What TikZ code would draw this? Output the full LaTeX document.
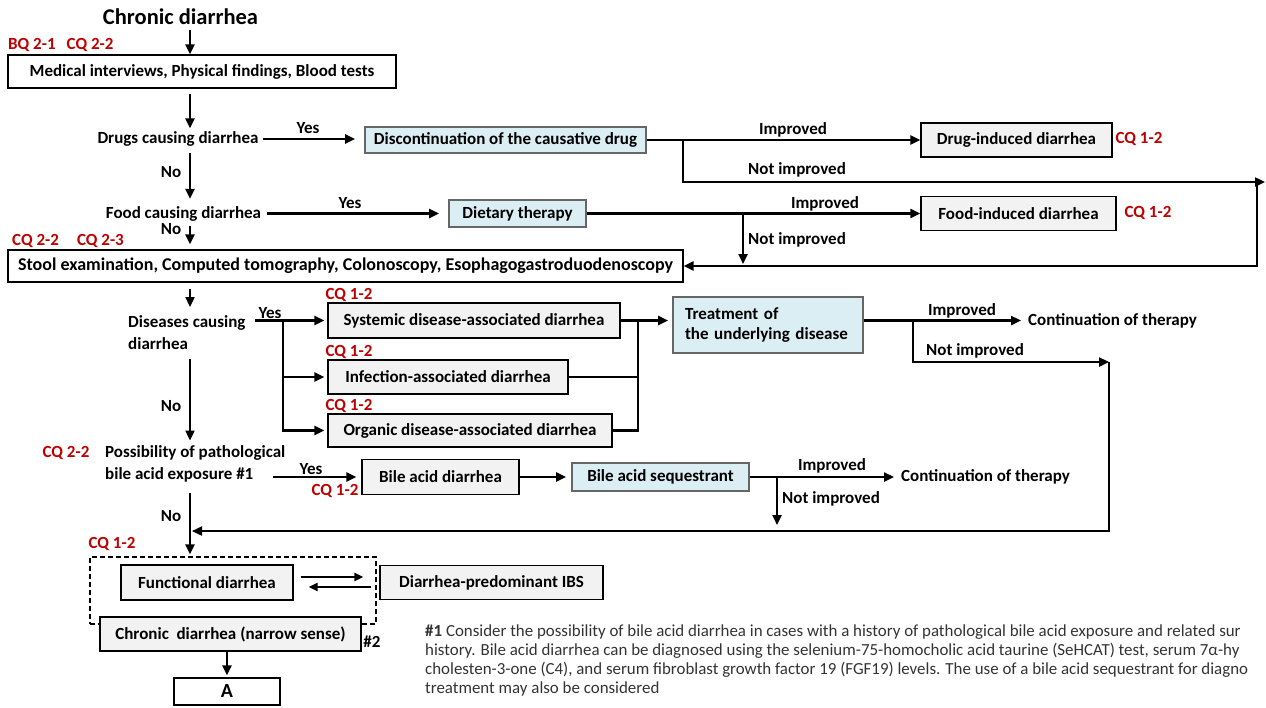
\documentclass[tikz,border=0pt]{standalone}
\usepackage{fontspec}
\setmainfont{Carlito}
\usetikzlibrary{arrows.meta}
\definecolor{cqred}{HTML}{C00000}
\definecolor{lblue}{HTML}{DBEEF4}
\definecolor{lgray}{HTML}{F2F2F2}
\definecolor{fnote}{HTML}{333333}
\begin{document}
\begin{tikzpicture}[x=1pt,y=-1pt,
  lab/.style={font=\fontsize{17}{22}\selectfont\bfseries, inner sep=0pt},
  cq/.style={lab, text=cqred},
  box/.style={draw, line width=1.4pt, inner sep=0pt, font=\fontsize{17}{20}\selectfont\bfseries, align=center},
  wbox/.style={box, fill=white},
  bbox/.style={box, fill=lblue, draw=black!60, line width=1.7pt},
  gbox/.style={box, fill=lgray},
  arr/.style={line width=2.3pt, -{Triangle[length=10pt,width=9pt]}},
  sarr/.style={line width=2.3pt, -{Triangle[length=9pt,width=8pt]}},
  ln/.style={line width=2.3pt},
  fn/.style={font=\fontsize{16.9}{19}\selectfont, text=fnote, inner sep=0pt, anchor=base west},
]
\useasboundingbox (0,0) rectangle (1266,707);
\fill[white] (0,0) rectangle (1266,707);
\coordinate (col) at (190,0);

% ---- top
\node[lab, font=\fontsize{22.5}{26}\selectfont\bfseries] (title) at (180.5,17) {Chronic diarrhea};
\node[cq, anchor=west] (bq) at (8,45) {BQ 2-1\hspace{11pt}CQ 2-2};
\node[wbox, minimum width=388pt, minimum height=33pt] (med) at (202,71.5) {Medical interviews, Physical findings, Blood tests};
\draw[arr] ([yshift=-30pt]col) -- (col |- med.north);

\node[lab] (drugs) at (178,139) {Drugs causing diarrhea};
\draw[arr] ([yshift=-5pt]med.south -| col) -- ([yshift=3pt]drugs.north -| col);
\node[bbox, minimum width=281pt, minimum height=26pt] (disc) at (505.5,140) {Discontinuation of the causative drug};
\draw[arr] ([xshift=4pt]drugs.east) -- ([xshift=-9pt]drugs.east -| disc.west);
\node[lab] (y1) at (308,128) {Yes};
\node[gbox, minimum width=191pt, minimum height=34pt] (drug) at (1016.5,140) {Drug-induced diarrhea};
\node[cq] (cq1) at (1139,139) {CQ 1-2};
\draw[arr] (disc.east) -- (drug.west);
\node[lab] (imp1) at (793,130) {Improved};
\node[lab] (nimp1) at (797,170) {Not improved};
\coordinate (b1) at (683,140);
\coordinate (r1) at (1265,182);
\coordinate (r1v) at (1257,182);
\draw[arr] (b1) |- (r1);
\node[lab] (no1) at (171,172) {No};

\node[lab] (food) at (183.5,213.5) {Food causing diarrhea};
\draw[arr] ([yshift=-6pt]drugs.south -| col) -- ([yshift=7pt]food.north -| col);
\node[bbox, minimum width=137pt, minimum height=27pt] (diet) at (517.5,213.5) {Dietary therapy};
\draw[arr] ([xshift=6pt]food.east) -- ([xshift=-9pt]food.east -| diet.west);
\node[lab] (y2) at (350,203) {Yes};
\node[gbox, minimum width=195pt, minimum height=34pt] (fi) at (1018.5,213.5) {Food-induced diarrhea};
\node[cq] (cq2) at (1148,213) {CQ 1-2};
\draw[arr] (diet.east) -- (fi.west);
\node[lab] (imp2) at (825,204) {Improved};
\node[lab] (nimp2) at (797,240) {Not improved};
\node[lab] (no2) at (171,229) {No};
\node[cq, anchor=west] (cq3) at (12,241) {CQ 2-2\hspace{18pt}CQ 2-3};

\node[wbox, minimum width=675pt, minimum height=32pt, font=\fontsize{18}{20}\selectfont\bfseries] (stool) at (345.5,266) {Stool examination, Computed tomography, Colonoscopy, Esophagogastroduodenoscopy};
\draw[arr] ([yshift=-5pt]food.south -| col) -- ([yshift=5pt]stool.north -| col);
\coordinate (b2) at (743,213.5);
\coordinate (b2e) at (743,264);
\draw[arr] (b2) -- (b2e);
\draw[arr] (r1v) |- (stool.east);

% ---- diseases
\node[lab, align=left, anchor=west] (dis) at (128,333) {Diseases causing\\diarrhea};
\draw[arr] ([yshift=-6pt]stool.south -| col) -- ([yshift=-307pt]col);
\node[gbox, minimum width=292pt, minimum height=35pt] (sys) at (474,320.5) {Systemic disease-associated diarrhea};
\node[gbox, minimum width=240pt, minimum height=34pt] (inf) at (448,377) {Infection-associated diarrhea};
\node[gbox, minimum width=284pt, minimum height=33pt] (org) at (470,430.5) {Organic disease-associated diarrhea};
\node[cq] (cq4) at (349,295) {CQ 1-2};
\node[cq] (cq5) at (349,352) {CQ 1-2};
\node[cq] (cq6) at (349,406) {CQ 1-2};
\node[lab] (y3) at (270,313) {Yes};
\coordinate (dy) at (255,320.5);
\coordinate (b3) at (283,320.5);
\draw[arr] (dy) -- ([xshift=-3pt]sys.west);
\draw[arr] (b3) |- ([xshift=-3pt]inf.west);
\draw[arr] (b3) |- ([xshift=-3pt]org.west);
\node[bbox, minimum width=190pt, minimum height=56pt, align=left, text width=166pt] (treat) at (768,325) {Treatment of\\the underlying disease};
\coordinate (m) at (638,320.5);
\draw[ln] (inf.east) -| (m);
\draw[ln] (org.east) -| (m);
\draw[arr] (sys.east) -- ([xshift=-4pt]sys.east -| treat.west);
\node[lab, anchor=west] (cont1) at (1028,320.5) {Continuation of therapy};
\draw[arr] (treat.east |- sys.east) -- ([xshift=-7pt]sys.east -| cont1.west);
\node[lab] (imp3) at (962,311) {Improved};
\node[lab] (nimp3) at (975,351) {Not improved};
\coordinate (b4) at (913,320.5);
\coordinate (r2) at (1109,362);
\coordinate (r2b) at (1109,531);
\coordinate (ret) at (192,531);
\draw[arr] (b4) |- (r2);
\draw[arr] (r2) -- (r2b) -- (ret);
\node[lab] (no3) at (171,406) {No};

% ---- bile acid
\node[lab, align=left, anchor=west] (poss) at (105,464) {Possibility of pathological\\bile acid exposure \#1};
\draw[arr] ([yshift=-9pt]dis.south -| col) -- ([yshift=5pt]poss.north -| col);
\node[cq] (cq7) at (66,453) {CQ 2-2};
\node[gbox, minimum width=157pt, minimum height=35pt] (bad) at (440.5,477) {Bile acid diarrhea};
\coordinate (py) at (273,477);
\draw[arr] (py) -- ([xshift=-5pt]bad.west);
\node[lab] (y4) at (311,469) {Yes};
\node[cq] (cq8) at (335,491) {CQ 1-2};
\node[bbox, minimum width=177pt, minimum height=28pt] (bas) at (660.5,477) {Bile acid sequestrant};
\draw[arr] (bad.east) -- ([xshift=-5pt]bas.west);
\node[lab, anchor=west] (cont2) at (901,477) {Continuation of therapy};
\draw[arr] (bas.east) -- ([xshift=-7pt]cont2.west);
\node[lab] (imp4) at (832,466) {Improved};
\node[lab] (nimp4) at (831,499) {Not improved};
\coordinate (b5) at (777,477);
\coordinate (b5e) at (777,525);
\draw[arr] (b5) -- (b5e);
\node[lab] (no4) at (171,516) {No};

% ---- functional
\node[cq] (cq9) at (112,544) {CQ 1-2};
\node[draw, line width=1.3pt, dash pattern=on 5pt off 3pt, minimum width=286pt, minimum height=67pt, inner sep=0pt] (grp) at (233,590.5) {};
\draw[arr] ([yshift=-10pt]poss.south -| col) -- ([yshift=2pt]grp.north -| col);
\node[gbox, minimum width=172pt, minimum height=35pt] (func) at (207,582.5) {Functional diarrhea};
\node[gbox, minimum width=223pt, minimum height=34pt] (ibs) at (491.5,582.5) {Diarrhea-predominant IBS};
\draw[sarr] ([xshift=7pt,yshift=5.5pt]func.east) -- ([xshift=-16pt,yshift=5.5pt]ibs.west);
\draw[sarr] ([xshift=-8pt,yshift=-4.5pt]ibs.west) -- ([xshift=15pt,yshift=-4.5pt]func.east);
\node[gbox, minimum width=261pt, minimum height=34pt] (narrow) at (230.5,634) {Chronic\ \ diarrhea (narrow sense)};
\node[lab] (n2) at (372,642) {\#2};
\node[wbox, minimum width=106pt, minimum height=27pt, font=\fontsize{20}{22}\selectfont\bfseries] (A) at (227,691.5) {A};
\draw[arr] (narrow.south -| A.north) -- ([yshift=2pt]A.north);

% ---- footnote
\node[fn] (fn1) at (425,636) {\textbf{\#1} Consider the possibility of bile acid diarrhea in cases with a history of pathological bile acid exposure and related sur};
\node[fn] (fn2) at (425,655) {history. Bile acid diarrhea can be diagnosed using the selenium-75-homocholic acid taurine (SeHCAT) test, serum 7α-hy};
\node[fn] (fn3) at (425,674) {cholesten-3-one (C4), and serum fibroblast growth factor 19 (FGF19) levels. The use of a bile acid sequestrant for diagno};
\node[fn] (fn4) at (425,693) {treatment may also be considered};
\end{tikzpicture}
\end{document}
